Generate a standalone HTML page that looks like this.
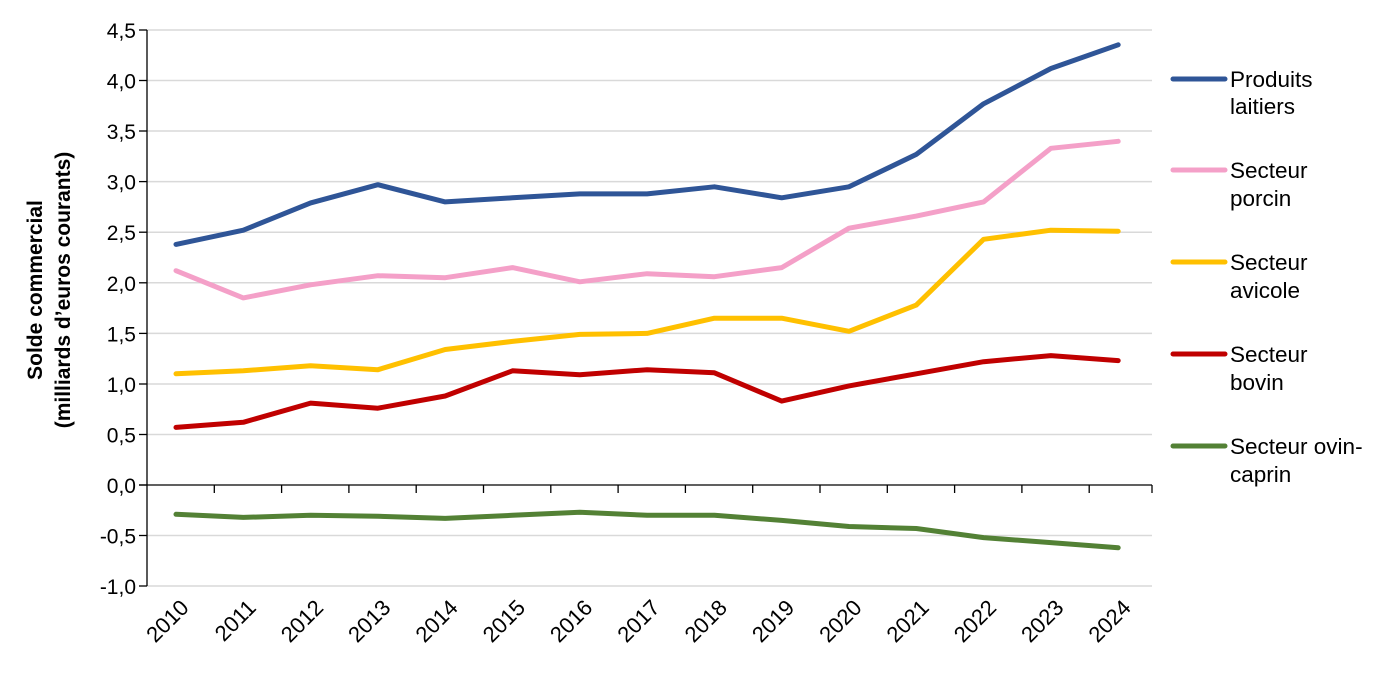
<!DOCTYPE html>
<html><head><meta charset="utf-8"><style>
html,body{margin:0;padding:0;background:#fff;}
svg{display:block;font-family:"Liberation Sans",Arial,sans-serif;}
</style></head><body>
<svg width="1387" height="686" viewBox="0 0 1387 686" xmlns="http://www.w3.org/2000/svg">
<g stroke="#d9d9d9" stroke-width="1.5">
<line x1="147" y1="30" x2="1152" y2="30"/>
<line x1="147" y1="80.5" x2="1152" y2="80.5"/>
<line x1="147" y1="131" x2="1152" y2="131"/>
<line x1="147" y1="181.6" x2="1152" y2="181.6"/>
<line x1="147" y1="232.2" x2="1152" y2="232.2"/>
<line x1="147" y1="282.8" x2="1152" y2="282.8"/>
<line x1="147" y1="333.4" x2="1152" y2="333.4"/>
<line x1="147" y1="384" x2="1152" y2="384"/>
<line x1="147" y1="434.5" x2="1152" y2="434.5"/>
<line x1="147" y1="535.5" x2="1152" y2="535.5"/>
<line x1="147" y1="586" x2="1152" y2="586"/>
</g>
<g stroke="#000" stroke-width="1.3">
<line x1="147" y1="30" x2="147" y2="586"/>
<line x1="139" y1="30" x2="147" y2="30"/><line x1="139" y1="80.5" x2="147" y2="80.5"/><line x1="139" y1="131" x2="147" y2="131"/><line x1="139" y1="181.6" x2="147" y2="181.6"/><line x1="139" y1="232.2" x2="147" y2="232.2"/><line x1="139" y1="282.8" x2="147" y2="282.8"/><line x1="139" y1="333.4" x2="147" y2="333.4"/><line x1="139" y1="384" x2="147" y2="384"/><line x1="139" y1="434.5" x2="147" y2="434.5"/><line x1="139" y1="485" x2="147" y2="485"/><line x1="139" y1="535.5" x2="147" y2="535.5"/><line x1="139" y1="586" x2="147" y2="586"/>
<line x1="139" y1="485" x2="1152" y2="485"/>
<line x1="214.3" y1="485" x2="214.3" y2="493"/><line x1="281.6" y1="485" x2="281.6" y2="493"/><line x1="348.9" y1="485" x2="348.9" y2="493"/><line x1="416.2" y1="485" x2="416.2" y2="493"/><line x1="483.5" y1="485" x2="483.5" y2="493"/><line x1="550.8" y1="485" x2="550.8" y2="493"/><line x1="618.1" y1="485" x2="618.1" y2="493"/><line x1="685.4" y1="485" x2="685.4" y2="493"/><line x1="752.7" y1="485" x2="752.7" y2="493"/><line x1="820" y1="485" x2="820" y2="493"/><line x1="887.3" y1="485" x2="887.3" y2="493"/><line x1="954.6" y1="485" x2="954.6" y2="493"/><line x1="1021.9" y1="485" x2="1021.9" y2="493"/><line x1="1089.2" y1="485" x2="1089.2" y2="493"/><line x1="1152" y1="485" x2="1152" y2="493"/>
</g>
<g font-size="21" fill="#000" text-anchor="end">
<text x="136" y="38">4,5</text><text x="136" y="88.5">4,0</text><text x="136" y="139">3,5</text><text x="136" y="189.6">3,0</text><text x="136" y="240.2">2,5</text><text x="136" y="290.8">2,0</text><text x="136" y="341.4">1,5</text><text x="136" y="392">1,0</text><text x="136" y="442.5">0,5</text><text x="136" y="493">0,0</text><text x="136" y="543.5">-0,5</text><text x="136" y="594">-1,0</text>
</g>
<g font-size="22" fill="#000" text-anchor="end">
<text transform="translate(190,609) rotate(-45)">2010</text>
<text transform="translate(257.3,609) rotate(-45)">2011</text>
<text transform="translate(324.6,609) rotate(-45)">2012</text>
<text transform="translate(391.9,609) rotate(-45)">2013</text>
<text transform="translate(459.2,609) rotate(-45)">2014</text>
<text transform="translate(526.5,609) rotate(-45)">2015</text>
<text transform="translate(593.8,609) rotate(-45)">2016</text>
<text transform="translate(661.1,609) rotate(-45)">2017</text>
<text transform="translate(728.4,609) rotate(-45)">2018</text>
<text transform="translate(795.7,609) rotate(-45)">2019</text>
<text transform="translate(863,609) rotate(-45)">2020</text>
<text transform="translate(930.3,609) rotate(-45)">2021</text>
<text transform="translate(997.6,609) rotate(-45)">2022</text>
<text transform="translate(1064.9,609) rotate(-45)">2023</text>
<text transform="translate(1132.2,609) rotate(-45)">2024</text>
</g>
<g font-size="21" font-weight="bold" text-anchor="middle" fill="#000">
<text transform="translate(42,290) rotate(-90)">Solde commercial</text>
<text transform="translate(70,290) rotate(-90)">(milliards d’euros courants)</text>
</g>
<g fill="none" stroke-width="5" stroke-linejoin="round" stroke-linecap="round">
<polyline stroke="#2f5597" points="176,244.4 243.3,230.2 310.6,202.9 377.9,184.7 445.2,201.9 512.5,197.8 579.8,193.9 647.1,193.9 714.4,186.8 781.7,197.8 849,186.8 916.3,154.4 983.6,103.8 1050.9,68.5 1118.2,44.8"/>
<polyline stroke="#f4a0c8" points="176,270.7 243.3,297.9 310.6,284.8 377.9,275.7 445.2,277.7 512.5,267.6 579.8,281.8 647.1,273.7 714.4,276.7 781.7,267.6 849,228.2 916.3,216.1 983.6,201.9 1050.9,148.3 1118.2,141.3"/>
<polyline stroke="#ffc000" points="176,373.8 243.3,370.8 310.6,365.7 377.9,369.7 445.2,349.5 512.5,341.4 579.8,334.4 647.1,333.4 714.4,318.2 781.7,318.2 849,331.3 916.3,305.1 983.6,239.3 1050.9,230.2 1118.2,231.2"/>
<polyline stroke="#c00000" points="176,427.4 243.3,422.3 310.6,403.1 377.9,408.2 445.2,396 512.5,370.8 579.8,374.8 647.1,369.7 714.4,372.8 781.7,401.1 849,385.9 916.3,373.8 983.6,361.7 1050.9,355.6 1118.2,360.6"/>
<polyline stroke="#538135" points="176,514.3 243.3,517.4 310.6,515.3 377.9,516.3 445.2,518.4 512.5,515.3 579.8,512.3 647.1,515.3 714.4,515.3 781.7,520.4 849,526.5 916.3,528.5 983.6,537.6 1050.9,542.6 1118.2,547.7"/>
<line stroke="#2f5597" x1="1173" y1="79" x2="1225" y2="79"/>
<line stroke="#f4a0c8" x1="1173" y1="170" x2="1225" y2="170"/>
<line stroke="#ffc000" x1="1173" y1="262" x2="1225" y2="262"/>
<line stroke="#c00000" x1="1173" y1="354" x2="1225" y2="354"/>
<line stroke="#538135" x1="1173" y1="446" x2="1225" y2="446"/>
</g>
<g font-size="22.5" fill="#000">
<text x="1230" y="87">Produits</text><text x="1230" y="114">laitiers</text>
<text x="1230" y="178">Secteur</text><text x="1230" y="206">porcin</text>
<text x="1230" y="270">Secteur</text><text x="1230" y="298">avicole</text>
<text x="1230" y="362">Secteur</text><text x="1230" y="390">bovin</text>
<text x="1230" y="454">Secteur ovin-</text><text x="1230" y="482">caprin</text>
</g>
</svg>
</body></html>
